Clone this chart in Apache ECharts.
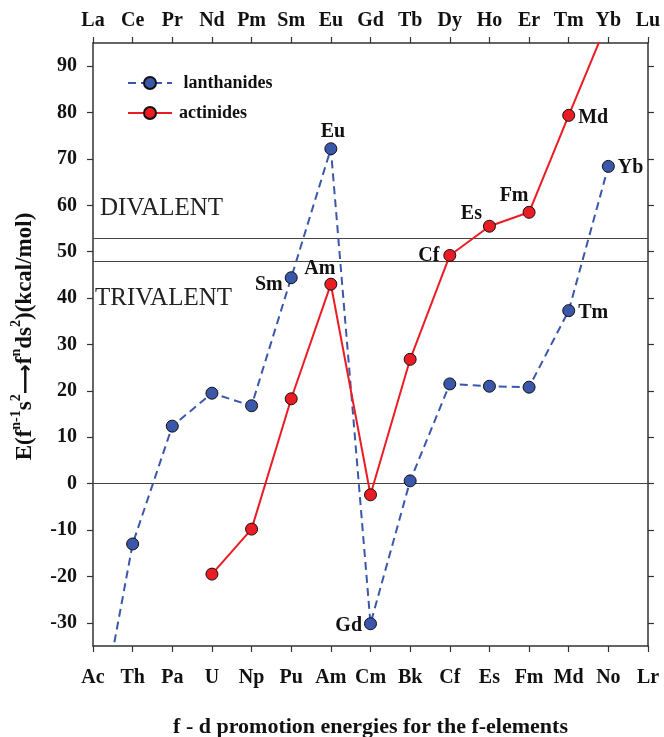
<!DOCTYPE html>
<html>
<head>
<meta charset="utf-8">
<title>f - d promotion energies for the f-elements</title>
<script src="https://cdn.jsdelivr.net/npm/echarts@6/dist/echarts.min.js"></script>
<style>
  html, body { margin: 0; padding: 0; background: #ffffff; }
  #chart { width: 664px; height: 737px; }
</style>
</head>
<body>
<div id="chart"></div>
<script>
// Element rows: actinides along the bottom axis, lanthanides along the top axis
const actinideElements = ['Ac', 'Th', 'Pa', 'U', 'Np', 'Pu', 'Am', 'Cm', 'Bk', 'Cf', 'Es', 'Fm', 'Md', 'No', 'Lr'];
const lanthanideElements = ['La', 'Ce', 'Pr', 'Nd', 'Pm', 'Sm', 'Eu', 'Gd', 'Tb', 'Dy', 'Ho', 'Er', 'Tm', 'Yb', 'Lu'];

// Promotion energies E(f^(n-1)s^2 -> f^n ds^2), kcal/mol
const lanthanideEnergy = [-59, -13.0, 12.4, 19.5, 16.8, 44.4, 72.2, -30.2, 0.6, 21.5, 21.0, 20.8, 37.3, 68.4, null];
const actinideEnergy = [null, null, null, -19.5, -9.8, 18.3, 43.0, -2.4, 26.8, 49.2, 55.5, 58.5, 79.4, 100, null];

// Point captions (empty string = no caption)
const lanthanideCaptions = ['', '', '', '', '', 'Sm', 'Eu', 'Gd', '', '', '', '', 'Tm', 'Yb', ''];
const actinideCaptions = ['', '', '', '', '', '', 'Am', '', '', 'Cf', 'Es', 'Fm', 'Md', '', ''];

// Value axis ticks
const yTickValues = [-30, -20, -10, 0, 10, 20, 30, 40, 50, 60, 70, 80, 90];

// Horizontal reference lines: divalent / trivalent boundaries and zero
const referenceLevels = [53, 48, 0];

// Region annotations
const regionNames = ['DIVALENT', 'TRIVALENT'];
const regionLevels = [59.3, 40];

const SERIF = "'Liberation Serif', 'Times New Roman', serif";
const BLUE = '#3a57aa';
const RED = '#ec1c24';
const AXIS = '#333333';

// Caption placement around the markers
const captionPlacement = {
  Sm: { position: 'left', offset: [2, 7] },
  Eu: { position: 'top', offset: [2, 4] },
  Gd: { position: 'left', offset: [2, 2] },
  Tm: { position: 'right', offset: [-1, 2] },
  Yb: { position: 'right', offset: [-1, 1] },
  Am: { position: 'top', offset: [-11, 5] },
  Cf: { position: 'left', offset: [0, 0] },
  Es: { position: 'left', offset: [3, -12] },
  Fm: { position: 'top', offset: [-15, 4] },
  Md: { position: 'right', offset: [-1, 2] }
};

function buildPoints(values, captions) {
  return values.map(function (v, i) {
    const cap = captions[i];
    if (!cap || v === null) return v;
    const place = captionPlacement[cap];
    return {
      value: v,
      label: {
        show: true,
        formatter: cap,
        position: place.position,
        offset: place.offset,
        distance: 4,
        color: '#111',
        fontFamily: SERIF,
        fontWeight: 'bold',
        fontSize: 20
      }
    };
  });
}

const tickLabelStyle = {
  color: '#111',
  fontFamily: SERIF,
  fontWeight: 'bold',
  fontSize: 20
};

const chart = echarts.init(document.getElementById('chart'), null, { renderer: 'canvas' });

chart.setOption({
  backgroundColor: '#ffffff',
  animation: false,
  grid: { left: 93, right: 16, top: 43, bottom: 91, containLabel: false, outerBoundsMode: 'none' },
  legend: {
    left: 122,
    top: 69,
    orient: 'vertical',
    itemWidth: 44,
    itemHeight: 15,
    itemGap: 12,
    data: ['lanthanides', 'actinides'],
    formatter: function (n) { return n === 'lanthanides' ? ' ' + n : n; },
    textStyle: {
      color: '#111',
      fontFamily: SERIF,
      fontWeight: 'bold',
      fontSize: 18,
      padding: [0, 0, 0, 2]
    }
  },
  xAxis: [
    {
      type: 'category',
      position: 'bottom',
      data: actinideElements,
      boundaryGap: false,
      axisLine: { onZero: false, lineStyle: { color: AXIS, width: 1.5 } },
      axisTick: { show: true, inside: false, length: 6, interval: 0, lineStyle: { color: AXIS, width: 1.2 } },
      axisLabel: Object.assign({ interval: 0, margin: 22 }, tickLabelStyle),
      splitLine: { show: false },
      name: 'f - d promotion energies for the f-elements',
      nameLocation: 'middle',
      nameGap: 70,
      nameTextStyle: { color: '#111', fontFamily: SERIF, fontWeight: 'bold', fontSize: 22 }
    },
    {
      type: 'category',
      position: 'top',
      data: lanthanideElements,
      boundaryGap: false,
      axisLine: { onZero: false, lineStyle: { color: AXIS, width: 1.5 } },
      axisTick: { show: true, inside: false, length: 6, interval: 0, lineStyle: { color: AXIS, width: 1.2 } },
      axisLabel: Object.assign({ interval: 0, margin: 12 }, tickLabelStyle),
      splitLine: { show: false }
    }
  ],
  yAxis: [
    {
      type: 'value',
      position: 'left',
      min: -35,
      max: 95,
      axisLine: { show: true, onZero: false, lineStyle: { color: AXIS, width: 1.5 } },
      axisTick: { show: true, inside: false, length: 6, customValues: yTickValues, lineStyle: { color: AXIS, width: 1.2 } },
      axisLabel: Object.assign({ margin: 16, customValues: yTickValues }, tickLabelStyle),
      splitLine: { show: false },
      name: '{b|E(f}{s|n-1}{b|s}{s|2}{a|⟶}{b|f}{s|n}{b|ds}{s|2}{b|)(kcal/mol)}',
      nameLocation: 'middle',
      nameGap: 56,
      nameRotate: 90,
      nameTextStyle: {
        color: '#111',
        padding: [0, 0, 0, 16],
        rich: {
          b: { fontFamily: SERIF, fontWeight: 'bold', fontSize: 23, color: '#111', lineHeight: 28, verticalAlign: 'bottom' },
          a: { fontFamily: 'DejaVu Sans', fontWeight: 'bold', fontSize: 21, color: '#111', lineHeight: 28, verticalAlign: 'bottom' },
          s: { fontFamily: SERIF, fontWeight: 'bold', fontSize: 14, color: '#111', lineHeight: 14, verticalAlign: 'top' }
        }
      }
    },
    {
      type: 'value',
      position: 'right',
      min: -35,
      max: 95,
      axisLine: { show: true, onZero: false, lineStyle: { color: AXIS, width: 1.5 } },
      axisTick: { show: true, inside: false, length: 6, customValues: yTickValues, lineStyle: { color: AXIS, width: 1.2 } },
      axisLabel: { show: false },
      splitLine: { show: false }
    }
  ],
  series: [
    {
      name: 'lanthanides',
      type: 'line',
      xAxisIndex: 0,
      yAxisIndex: 0,
      clip: true,
      connectNulls: false,
      data: buildPoints(lanthanideEnergy, lanthanideCaptions),
      symbol: 'circle',
      symbolSize: 12,
      showAllSymbol: true,
      z: 3,
      itemStyle: { color: BLUE, borderColor: '#111', borderWidth: 1 },
      lineStyle: { color: BLUE, width: 2, type: [8, 5] },
      emphasis: { disabled: true },
      markLine: {
        silent: true,
        symbol: ['none', 'none'],
        label: { show: false },
        lineStyle: { color: '#444', width: 1.2, type: 'solid' },
        data: referenceLevels.map(function (v) { return { yAxis: v }; }),
        z: 1
      },
      markPoint: {
        silent: true,
        symbol: 'circle',
        symbolSize: 0,
        data: regionNames.map(function (n, i) {
          return {
            coord: [0, regionLevels[i]],
            label: {
              show: true,
              formatter: n,
              position: 'right',
              distance: i === 0 ? 7 : 2,
              color: '#222',
              fontFamily: SERIF,
              fontWeight: 'normal',
              fontSize: 25
            }
          };
        })
      }
    },
    {
      name: 'actinides',
      type: 'line',
      xAxisIndex: 0,
      yAxisIndex: 0,
      clip: true,
      connectNulls: false,
      data: buildPoints(actinideEnergy, actinideCaptions),
      symbol: 'circle',
      symbolSize: 12,
      showAllSymbol: true,
      z: 4,
      itemStyle: { color: RED, borderColor: '#111', borderWidth: 1 },
      lineStyle: { color: RED, width: 2, type: 'solid' },
      emphasis: { disabled: true }
    }
  ]
});
</script>
</body>
</html>
